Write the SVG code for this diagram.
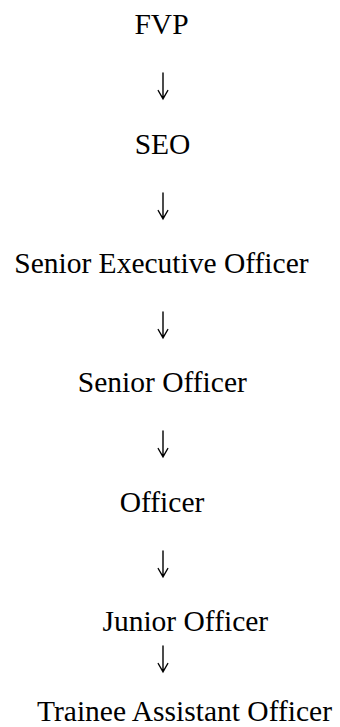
<svg xmlns="http://www.w3.org/2000/svg" width="340" height="727" viewBox="0 0 340 727">
<style>
text{font-family:"Liberation Serif","Times New Roman",serif;font-size:29.5px;fill:#000;text-anchor:middle}
.arr{fill:none;stroke:#000;stroke-width:1.4;stroke-linecap:round;stroke-linejoin:miter}
</style>
<rect width="340" height="727" fill="#fff"/>
<g id="connectors">
<path class="arr" d="M163 73V98.5M158.2 90.5L163 98.8L167.8 90.5"/>
<path class="arr" d="M163 193V218.5M158.2 210.5L163 218.8L167.8 210.5"/>
<path class="arr" d="M163 312V337.5M158.2 329.5L163 337.8L167.8 329.5"/>
<path class="arr" d="M163 431V456.5M158.2 448.5L163 456.8L167.8 448.5"/>
<path class="arr" d="M163 551V576.5M158.2 568.5L163 576.8L167.8 568.5"/>
<path class="arr" d="M163 646V671.5M158.2 663.5L163 671.8L167.8 663.5"/>
</g>
<g id="fvp"><text x="161.5" y="34">FVP</text></g>
<g id="seo"><text x="162.5" y="154">SEO</text></g>
<g id="senior-executive-officer"><text x="161.4" y="272.7">Senior Executive Officer</text></g>
<g id="senior-officer"><text x="162.3" y="392.3">Senior Officer</text></g>
<g id="officer"><text x="162" y="511.5">Officer</text></g>
<g id="junior-officer"><text x="185.3" y="631.2">Junior Officer</text></g>
<g id="trainee-assistant-officer"><text x="184.5" y="720.5">Trainee Assistant Officer</text></g>
</svg>
